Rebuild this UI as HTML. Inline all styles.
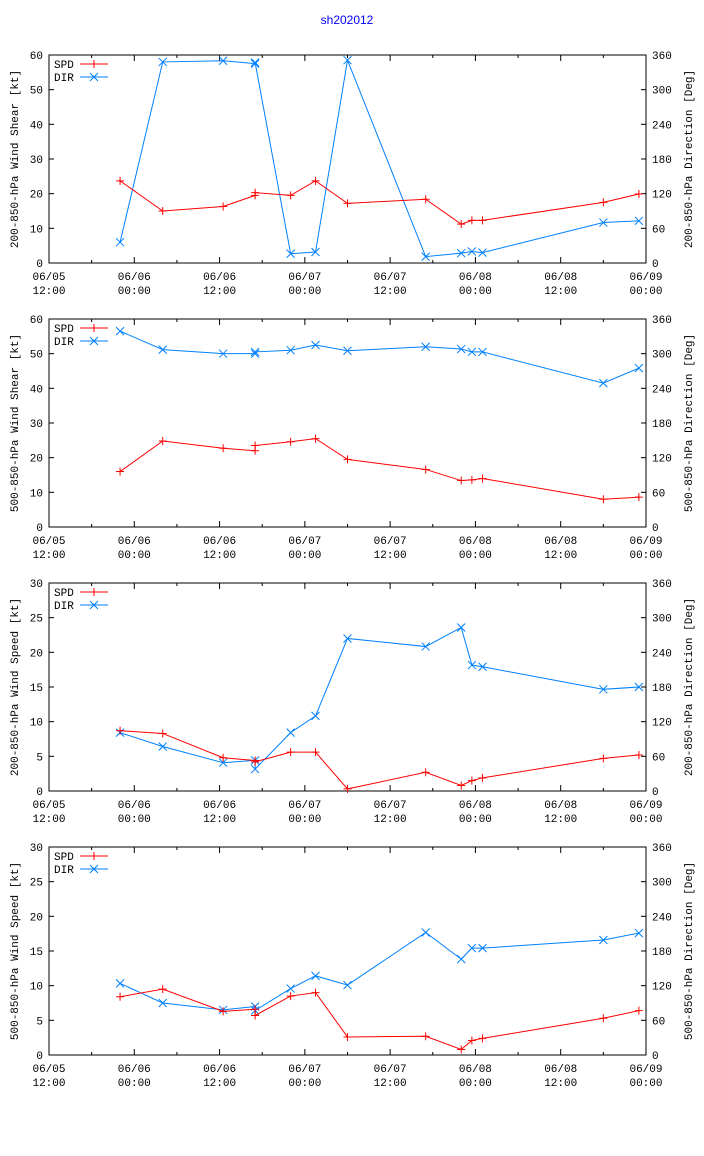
<!DOCTYPE html>
<html><head><meta charset="utf-8"><style>
body{margin:0;background:#fff;}
svg{display:block;font-family:"Liberation Mono","DejaVu Sans Mono",monospace;font-size:11px;}
</style></head><body>
<svg id="c" width="704" height="1156" viewBox="0 0 704 1156">
<text x="347" y="24" fill="#0000ff" text-anchor="middle" font-size="12" font-family="Liberation Sans, sans-serif">sh202012</text>
</svg>
<script>
const times = [10,16,24.5,29,29,34,37.5,42,53,58,59.5,61,78,83];
const xTickLabels1 = ["06/05","06/06","06/06","06/07","06/07","06/08","06/08","06/09"];
const xTickLabels2 = ["12:00","00:00","12:00","00:00","12:00","00:00","12:00","00:00"];
const spd1 = [23.7,15,16.3,19.5,20.3,19.5,23.7,17.2,18.4,11.2,12.3,12.3,17.5,19.9];
const dir1 = [36,348,350,345,347,16,19,351,11,17,20,18,70,73];
const spd2 = [16,24.8,22.7,22,23.5,24.6,25.5,19.5,16.6,13.4,13.6,14,8,8.6];
const dir2 = [339,307,300,300,303,306,315,305,312,308,303,303,249,275];
const spd3 = [8.7,8.3,4.8,4.4,4.2,5.6,5.6,0.3,2.7,0.8,1.5,1.9,4.7,5.2];
const dir3 = [101,77,49,53,38,101,130,264,250,283,218,215,176,180];
const spd4 = [8.4,9.5,6.3,6.6,5.7,8.5,9,2.6,2.7,0.8,2.1,2.4,5.3,6.4];
const dir4 = [124,90,78,84,77,115,137,121,212,166,185,185,199,211];
const leftMax = [60,60,30,30];
const leftTicks = [[0,10,20,30,40,50,60],[0,10,20,30,40,50,60],[0,5,10,15,20,25,30],[0,5,10,15,20,25,30]];
const rightTicks = [0,60,120,180,240,300,360];
const leftTitles = ["200-850-hPa Wind Shear [kt]","500-850-hPa Wind Shear [kt]","200-850-hPa Wind Speed [kt]","500-850-hPa Wind Speed [kt]"];
const rightTitles = ["200-850-hPa Direction [Deg]","500-850-hPa Direction [Deg]","200-850-hPa Direction [Deg]","500-850-hPa Direction [Deg]"];
const spds=[spd1,spd2,spd3,spd4], dirs=[dir1,dir2,dir3,dir4];
const svg=document.getElementById('c');
const NS="http://www.w3.org/2000/svg";
function mk(tag,attrs,parent){const e=document.createElementNS(NS,tag);for(const k in attrs)e.setAttribute(k,attrs[k]);(parent||svg).appendChild(e);return e;}
const X0=49,X1=646,H=208;
const xs=t=>X0+(X1-X0)*t/84;
function plus(g,x,y,c){mk('path',{d:`M${x-4},${y}h8M${x},${y-4}v8`,stroke:c,'stroke-width':1},g);}
function cross(g,x,y,c){mk('path',{d:`M${x-4},${y-4}l8,8M${x-4},${y+4}l8,-8`,stroke:c,'stroke-width':1},g);}
for(let p=0;p<4;p++){
  const top=55+p*264, bot=top+H;
  const g=mk('g',{});
  
  
  const ys=v=>bot-H*v/leftMax[p];
  const yd=v=>bot-H*v/360;
  mk('rect',{x:X0,y:top,width:X1-X0,height:H,fill:'none',stroke:'#000','stroke-width':1},g);
  leftTicks[p].forEach(v=>{const y=ys(v);
    mk('path',{d:`M${X0},${y}h5`,stroke:'#000'},g);
    const t=mk('text',{x:X0-6,y:y+4,'text-anchor':'end'},g);t.textContent=v;});
  rightTicks.forEach(v=>{const y=yd(v);
    mk('path',{d:`M${X1},${y}h-5`,stroke:'#000'},g);
    const t=mk('text',{x:X1+6,y:y+4},g);t.textContent=v;});
  for(let h=0;h<=84;h+=6){const x=xs(h);const L=h%12===0?6:3;
    mk('path',{d:`M${x},${bot}v-${L}M${x},${top}v${L}`,stroke:'#000'},g);}
  for(let i=0;i<8;i++){const x=xs(i*12);
    const a=mk('text',{x:x,y:bot+17,'text-anchor':'middle'},g);a.textContent=xTickLabels1[i];
    const b=mk('text',{x:x,y:bot+31,'text-anchor':'middle'},g);b.textContent=xTickLabels2[i];}
  const lt=mk('text',{x:0,y:0,'text-anchor':'middle',transform:`translate(18,${top+H/2}) rotate(-90)`},g);lt.textContent=leftTitles[p];
  
  
  const rt=mk('text',{x:0,y:0,'text-anchor':'middle',transform:`translate(692,${top+H/2}) rotate(-90)`},g);rt.textContent=rightTitles[p];
  
  
  const dp=times.map((t,i)=>xs(t)+','+yd(dirs[p][i])).join(' ');
  const dl=mk('polyline',{points:dp,fill:'none',stroke:'#0080ff','stroke-width':1},g);
  
  
  times.forEach((t,i)=>cross(g,xs(t),yd(dirs[p][i]),'#0080ff'));
  const sp=times.map((t,i)=>xs(t)+','+ys(spds[p][i])).join(' ');
  const sl=mk('polyline',{points:sp,fill:'none',stroke:'#ff0000','stroke-width':1},g);
  
  
  times.forEach((t,i)=>plus(g,xs(t),ys(spds[p][i]),'#ff0000'));
  const lg=mk('g',{},g);
  
  
  const t1=mk('text',{x:54,y:top+13},lg);t1.textContent='SPD';
  mk('path',{d:`M80,${top+9}h28`,stroke:'#ff0000'},lg);plus(lg,94,top+9,'#ff0000');
  const t2=mk('text',{x:54,y:top+26},lg);t2.textContent='DIR';
  mk('path',{d:`M80,${top+22}h28`,stroke:'#0080ff'},lg);cross(lg,94,top+22,'#0080ff');
}
</script>
</body></html>
